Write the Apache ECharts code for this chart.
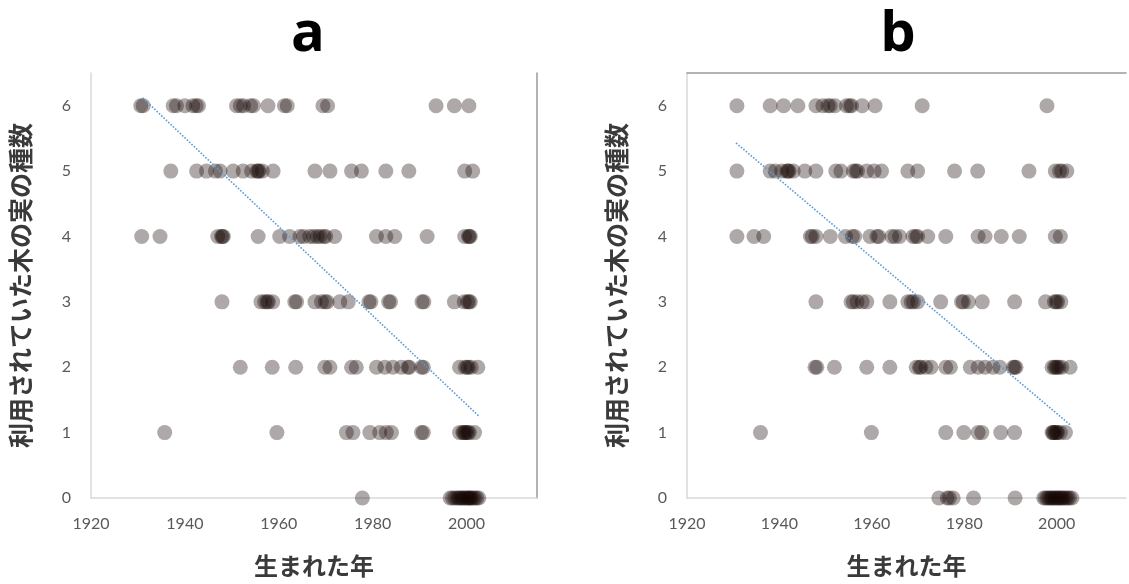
<!DOCTYPE html>
<html lang="ja">
<head>
    <meta charset="UTF-8">
    <title>木の実の種数と生まれた年</title>
    <script src="https://cdn.jsdelivr.net/npm/echarts@6/dist/echarts.min.js"></script>
    <style type="text/css">
        html, body {
            margin: 0;
            padding: 0;
            background: #fff;
        }
        #main {
            width: 1129px;
            height: 584px;
        }
    </style>
</head>
<body>
<div id="main"></div>
<script type="text/javascript">
    // 生まれた年 (x) per number of species (y)
    var aRow6 = [1930.6, 1931.1, 1937.5, 1938.2, 1940, 1941.7, 1942.4, 1942.9, 1951, 1951.8, 1952.5, 1954, 1954.6, 1957.7, 1961.2, 1961.8, 1969.4, 1970.4, 1993.5, 1997.4, 2000.5];
    var aRow5 = [1937, 1942.5, 1944.6, 1946.5, 1947.5, 1950.3, 1952.4, 1954.2, 1955.3, 1955.6, 1955.8, 1956.5, 1958.8, 1967.7, 1970.9, 1975.5, 1977.6, 1982.8, 1987.7, 1999.6, 2001.3];
    var aRow4 = [1930.8, 1934.7, 1947, 1947.8, 1948, 1948.2, 1955.6, 1960.2, 1962.3, 1964.5, 1965.3, 1966.6, 1967.4, 1968.2, 1968.8, 1969.6, 1970, 1971.9, 1980.8, 1982.8, 1984.7, 1991.6, 1999.6, 2000.4, 2000.6, 2000.8];
    var aRow3 = [1947.9, 1956.2, 1957, 1957.5, 1957.8, 1958.7, 1963.4, 1963.8, 1967.7, 1969.1, 1969.9, 1970.3, 1973, 1974.8, 1979.2, 1979.6, 1983.4, 1983.8, 1990.5, 1990.9, 1997.4, 1999.5, 2000.2, 2000.5, 2000.8];
    var aRow2 = [1951.8, 1958.6, 1963.6, 1969.8, 1970.9, 1975.5, 1976.5, 1980.8, 1982.6, 1984.3, 1986.1, 1987.5, 1987.8, 1990.4, 1990.8, 1998.5, 1999.7, 2000.1, 2000.4, 2001, 2002.4];
    var aRow1 = [1935.7, 1959.6, 1974.4, 1975.8, 1979.4, 1981.5, 1982.9, 1984, 1990.4, 1990.8, 1998.5, 1999.2, 1999.4, 1999.7, 2000, 2000.3, 2000.6, 2001.7];
    var aRow0 = [1977.8, 1996.5, 1997, 1997.5, 1998, 1998.3, 1998.7, 1999, 1999.3, 1999.6, 2000, 2000.3, 2000.5, 2000.8, 2001, 2001.4, 2001.8, 2002.2, 2002.6];

    var bRow6 = [1930.8, 1938, 1940.9, 1944, 1947.9, 1949.4, 1950.5, 1951, 1952, 1954.5, 1955.2, 1955.6, 1957.9, 1960.7, 1970.9, 1997.9];
    var bRow5 = [1930.8, 1938, 1939.1, 1940.5, 1941.6, 1941.9, 1942.1, 1943, 1945.5, 1947.9, 1952.2, 1953.3, 1956, 1956.5, 1956.9, 1958.9, 1960.5, 1962.1, 1967.8, 1969.9, 1977.9, 1982.9, 1994, 1999.7, 2000.6, 2001.1, 2002.2];
    var bRow4 = [1930.8, 1934.5, 1936.6, 1946.7, 1947.1, 1947.9, 1951, 1954.3, 1955.8, 1956.3, 1959.6, 1961.1, 1961.5, 1964.3, 1965, 1966, 1968.9, 1969.5, 1969.9, 1972.1, 1976, 1983, 1984.5, 1988, 1991.9, 1999.7, 2000.8];
    var bRow3 = [1947.9, 1955.5, 1956, 1956.8, 1957.9, 1958.9, 1963.9, 1967.8, 1968.5, 1969, 1969.9, 1974.9, 1979.4, 1979.8, 1980.9, 1983.9, 1990.9, 1997.6, 1999.5, 1999.9, 2000.2, 2000.9];
    var bRow2 = [1947.7, 1948.1, 1951.9, 1958.9, 1963.9, 1969.6, 1970.3, 1970.6, 1971.7, 1972.8, 1976, 1977, 1981.3, 1983, 1984.5, 1986.2, 1987.7, 1990.6, 1990.9, 1991.2, 1999, 1999.5, 1999.8, 2000.1, 2000.5, 2001.1, 2002.9];
    var bRow1 = [1935.9, 1959.9, 1976, 1979.9, 1983, 1983.8, 1987.9, 1990.9, 1999, 1999.2, 1999.4, 1999.7, 2000, 2000.2, 2000.8, 2001.9];
    var bRow0 = [1974.5, 1976.3, 1976.8, 1977.6, 1982, 1991, 1997.2, 1997.6, 1998, 1998.4, 1998.7, 1999, 1999.3, 1999.7, 2000, 2000.3, 2000.6, 2001, 2001.2, 2001.6, 2002, 2002.4, 2002.8, 2003.3];

    // 線形近似 (start / end)
    var aTrend = [[1931, 6.12], [2002.8, 1.24]];
    var bTrend = [[1930.6, 5.43], [2002.9, 1.12]];

    var xTicks = [1920, 1940, 1960, 1980, 2000];
    var yTicks = [0, 1, 2, 3, 4, 5, 6];
    var panelNames = ['a', 'b'];

    function toPoints(rows) {
        var out = [];
        for (var v = 0; v < rows.length; v++) {
            for (var i = 0; i < rows[v].length; i++) {
                out.push([rows[v][i], v]);
            }
        }
        return out;
    }

    var aData = toPoints([aRow0, aRow1, aRow2, aRow3, aRow4, aRow5, aRow6]);
    var bData = toPoints([bRow0, bRow1, bRow2, bRow3, bRow4, bRow5, bRow6]);

    var labelColor = '#595959';
    var axisGray = '#d9d9d9';
    var numFont = 'Lato, "Noto Sans", sans-serif';
    var jpFont = '"Noto Sans CJK JP", sans-serif';

    function xAxisOf(idx) {
        return {
            type: 'value',
            gridIndex: idx,
            min: 1920,
            max: 2015,
            interval: 20,
            name: '生まれた年',
            nameLocation: 'middle',
            nameGap: 56,
            nameTextStyle: {fontSize: 24, fontWeight: 'bold', color: '#3a3a3a', fontFamily: jpFont},
            axisLine: {show: true, lineStyle: {color: axisGray, width: 1.5}},
            axisTick: {show: false},
            splitLine: {show: false},
            axisLabel: {
                color: labelColor,
                fontSize: 16,
                fontFamily: numFont,
                margin: 18,
                formatter: function (v) {
                    return xTicks.indexOf(v) >= 0 ? String(v) : '';
                }
            }
        };
    }

    function yAxisOf(idx) {
        return {
            type: 'value',
            gridIndex: idx,
            min: 0,
            max: 6.5,
            interval: 1,
            name: '利用されていた木の実の種数',
            nameLocation: 'middle',
            nameRotate: 90,
            nameGap: 58,
            nameTextStyle: {fontSize: 25, fontWeight: 'bold', color: '#3a3a3a', fontFamily: jpFont},
            axisLine: {show: true, lineStyle: {color: axisGray, width: 1.5}},
            axisTick: {show: false},
            splitLine: {show: false},
            axisLabel: {
                color: labelColor,
                fontSize: 16,
                fontFamily: numFont,
                margin: 20,
                formatter: function (v) {
                    return yTicks.indexOf(v) >= 0 ? String(v) : '';
                }
            }
        };
    }

    // frame edges that show in the picture (right of a, top of b)
    function edgeAxis(idx, pos) {
        return {
            type: 'value',
            gridIndex: idx,
            position: pos,
            min: 0,
            max: 1,
            axisLine: {show: true, onZero: false, lineStyle: {color: '#9a9a9a', width: 1.5}},
            axisTick: {show: false},
            axisLabel: {show: false},
            splitLine: {show: false}
        };
    }

    var pointStyle = {color: 'rgba(20,6,4,0.43)'};
    var trendStyle = {color: '#5b9bd5', width: 1.6, type: 'dotted'};

    var chart = echarts.init(document.getElementById('main'));
    var option = {
        backgroundColor: '#fff',
        animation: false,
        title: [
            {text: panelNames[0], left: 303, top: 2, textAlign: 'center',
                textStyle: {fontSize: 56, fontWeight: 'bold', color: '#000', fontFamily: '"Open Sans", sans-serif'}},
            {text: panelNames[1], left: 893, top: 2, textAlign: 'center',
                textStyle: {fontSize: 56, fontWeight: 'bold', color: '#000', fontFamily: '"Open Sans", sans-serif'}}
        ],
        grid: [
            {left: 91, top: 73, width: 446, height: 425},
            {left: 687, top: 73, width: 446, height: 425}
        ],
        xAxis: [xAxisOf(0), xAxisOf(1), edgeAxis(1, 'top')],
        yAxis: [yAxisOf(0), yAxisOf(1), edgeAxis(0, 'right')],
        series: [
            {type: 'scatter', xAxisIndex: 0, yAxisIndex: 0, data: aData, symbolSize: 15, itemStyle: pointStyle},
            {type: 'line', xAxisIndex: 0, yAxisIndex: 0, data: aTrend, showSymbol: false, symbol: 'none', lineStyle: trendStyle, z: 3},
            {type: 'scatter', xAxisIndex: 1, yAxisIndex: 1, data: bData, symbolSize: 15, itemStyle: pointStyle},
            {type: 'line', xAxisIndex: 1, yAxisIndex: 1, data: bTrend, showSymbol: false, symbol: 'none', lineStyle: trendStyle, z: 3}
        ]
    };
    chart.setOption(option);
</script>
</body>
</html>
